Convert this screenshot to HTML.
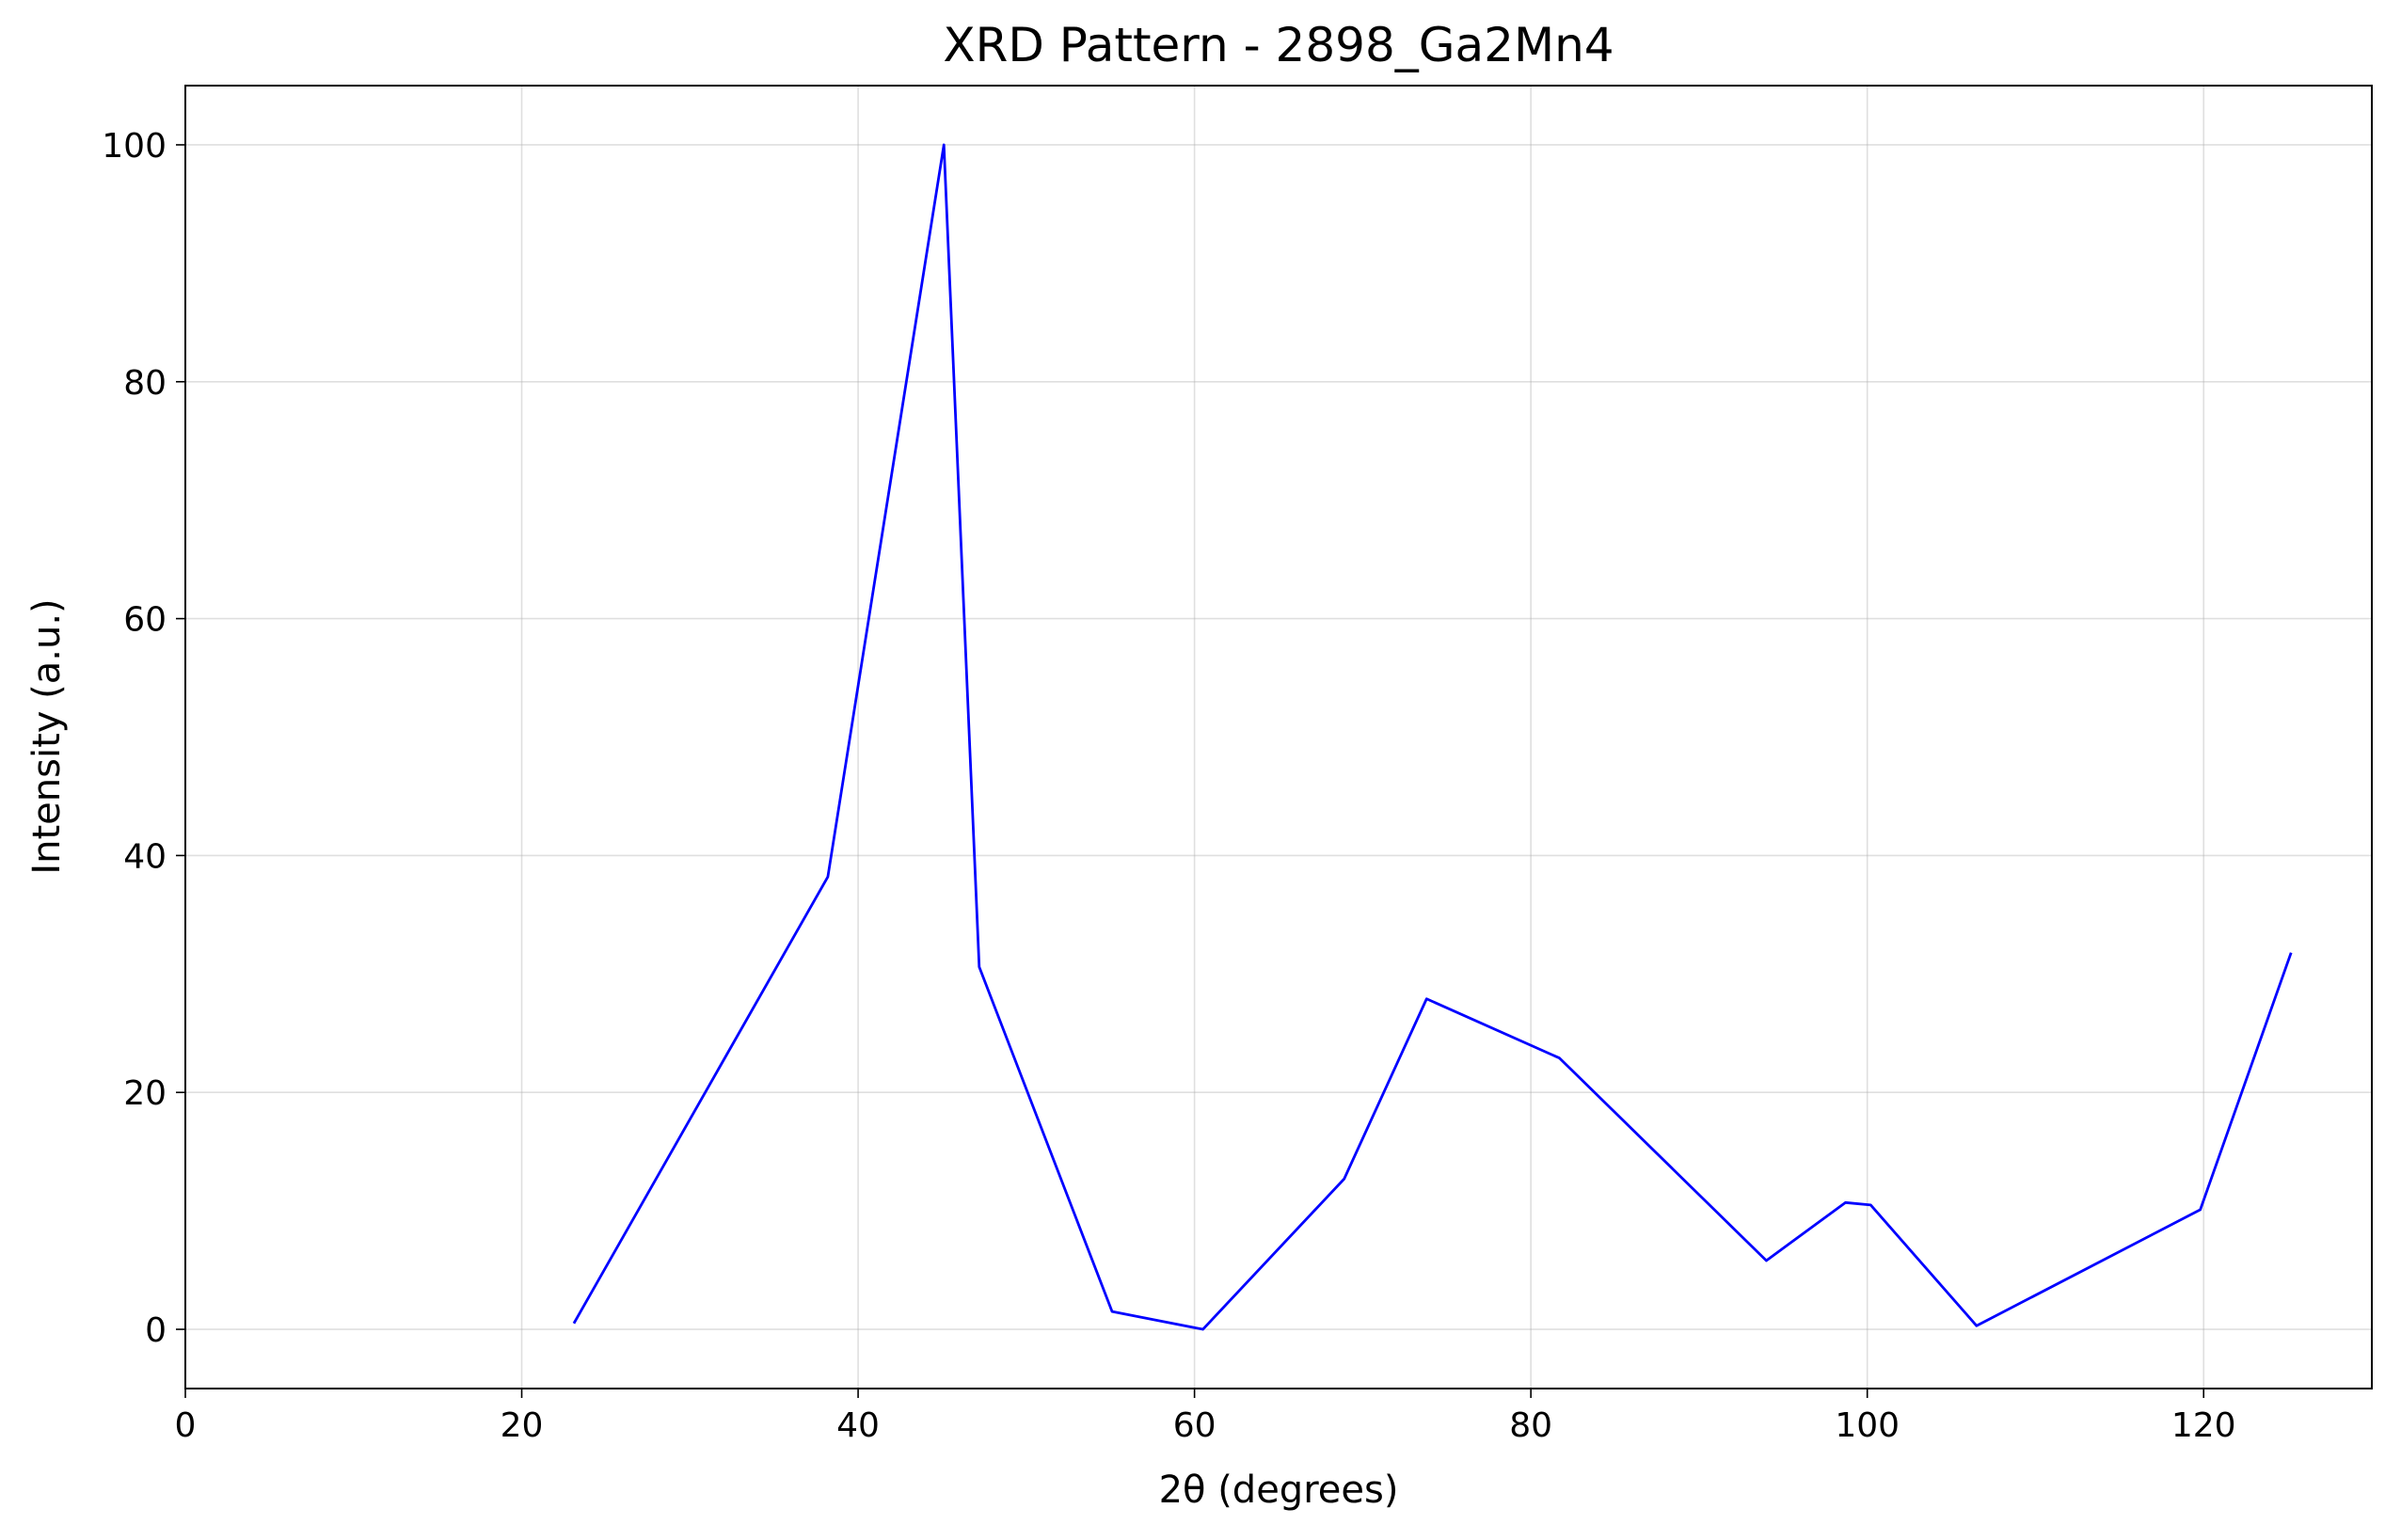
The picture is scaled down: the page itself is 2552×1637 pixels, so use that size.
<!DOCTYPE html>
<html><head><meta charset="utf-8"><style>
html,body{margin:0;padding:0;background:#fff;}
svg{display:block;font-family:"DejaVu Sans","Liberation Sans",sans-serif;}
</style></head><body>
<svg id="chart" width="2552" height="1637" viewBox="0 0 2552 1637" xmlns="http://www.w3.org/2000/svg">
<rect width="2552" height="1637" fill="#fff"/>
<text x="1359" y="65" font-size="50" text-anchor="middle">XRD Pattern - 2898_Ga2Mn4</text>
<text x="1359" y="1597" font-size="40" text-anchor="middle">2θ (degrees)</text>
<text transform="translate(63,783) rotate(-90)" font-size="40" text-anchor="middle">Intensity (a.u.)</text>
<g id="grid"></g><g id="series"></g><g id="axes"></g>
</svg>
<script>
const xTicks=[0,20,40,60,80,100,120];
const yTicks=[0,20,40,60,80,100];
const twoTheta=[23.1,38.2,45.1,47.2,55.1,60.5,68.9,73.8,81.7,94.0,98.7,100.2,106.5,119.8,125.2];
const intensity=[0.5,38.2,100,30.6,1.5,0,12.7,27.9,22.9,5.8,10.7,10.5,0.3,10.1,31.8];
const L=197,R=2521,T=91,B=1476,xmin=0,xmax=130,ymin=-5,ymax=105;
const sx=v=>L+(v-xmin)/(xmax-xmin)*(R-L);
const sy=v=>B-(v-ymin)/(ymax-ymin)*(B-T);
const NS='http://www.w3.org/2000/svg';
function mk(tag,attrs,parent){const e=document.createElementNS(NS,tag);for(const k in attrs)e.setAttribute(k,attrs[k]);parent.appendChild(e);return e;}
const grid=document.getElementById('grid'),axes=document.getElementById('axes'),series=document.getElementById('series');
xTicks.forEach(t=>{
  const g=mk('line',{x1:sx(t),x2:sx(t),y1:T,y2:B,stroke:'#b0b0b0','stroke-opacity':0.4,'stroke-width':1.6},grid);
  
  
  const tk=mk('line',{x1:sx(t),x2:sx(t),y1:B,y2:B+10,stroke:'#000','stroke-width':1.6},axes);
  
  
  const lb=mk('text',{x:sx(t),y:B+51,'font-size':36,'text-anchor':'middle'},axes);
  lb.textContent=t;
  
  
});
yTicks.forEach(t=>{
  const g=mk('line',{x1:L,x2:R,y1:sy(t),y2:sy(t),stroke:'#b0b0b0','stroke-opacity':0.4,'stroke-width':1.6},grid);
  
  
  const tk=mk('line',{x1:L-10,x2:L,y1:sy(t),y2:sy(t),stroke:'#000','stroke-width':1.6},axes);
  
  
  const lb=mk('text',{x:L-20,y:sy(t)+13,'font-size':36,'text-anchor':'end'},axes);
  lb.textContent=t;
  
  
});
const frame=mk('rect',{x:L,y:T,width:R-L,height:B-T,fill:'none',stroke:'#000','stroke-width':2},axes);


const line=mk('polyline',{points:twoTheta.map((x,i)=>sx(x)+','+sy(intensity[i])).join(' '),fill:'none',stroke:'#0000ff','stroke-width':2.8,'stroke-linejoin':'round'},series);


</script>
</body></html>
